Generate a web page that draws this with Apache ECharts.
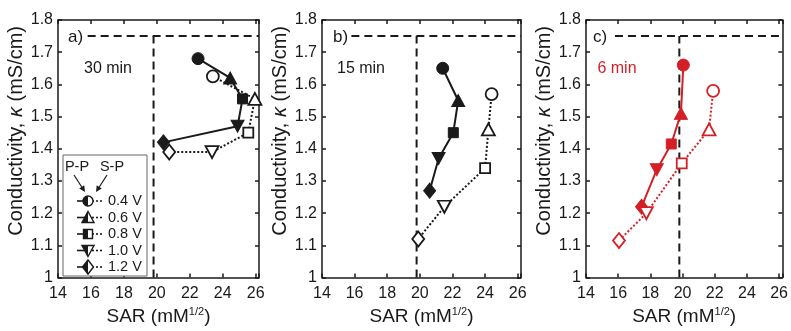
<!DOCTYPE html>
<html><head><meta charset="utf-8">
<script src="https://cdn.jsdelivr.net/npm/echarts@6/dist/echarts.min.js"></script>
<style>html,body{margin:0;padding:0;background:#fff}#c{width:791px;height:331px}</style>
</head><body><div id="c"></div>
<script>
// ---------- data ----------
const xTickLabels = [14, 16, 18, 20, 22, 24, 26];
const yTickLabels = [1, 1.1, 1.2, 1.3, 1.4, 1.5, 1.6, 1.7, 1.8];
const voltages = ['0.4 V', '0.6 V', '0.8 V', '1.0 V', '1.2 V'];
const panelLabels = ['a)', 'b)', 'c)'];
const timeLabels = ['30 min', '15 min', '6 min'];
const refSAR = 19.8;     // vertical dashed line
const refK = 1.75;       // horizontal dashed line
const refStart = 15.8;
// panel a (30 min)
const ppA_x = [22.5, 24.45, 25.2, 24.9, 20.4];
const ppA_y = [1.68, 1.62, 1.555, 1.47, 1.42];
const spA_x = [23.4, 25.95, 25.55, 23.35, 20.75];
const spA_y = [1.625, 1.555, 1.45, 1.39, 1.39];
// panel b (15 min)
const ppB_x = [21.4, 22.35, 22.05, 21.15, 20.6];
const ppB_y = [1.65, 1.55, 1.45, 1.37, 1.27];
const spB_x = [24.4, 24.2, 24.0, 21.5, 19.9];
const spB_y = [1.57, 1.46, 1.34, 1.22, 1.12];
// panel c (6 min)
const ppC_x = [20.05, 19.9, 19.3, 18.4, 17.45];
const ppC_y = [1.66, 1.51, 1.415, 1.335, 1.22];
const spC_x = [21.9, 21.65, 19.95, 17.75, 16.05];
const spC_y = [1.58, 1.46, 1.355, 1.2, 1.115];

// ---------- styling ----------
const FONT = 'Liberation Sans, Arial, sans-serif';
const INK = '#1a1a1a';
const RED = '#d41f26';
const symbols = [
  {symbol: 'circle', symbolSize: 12, symbolRotate: 0},
  {symbol: 'triangle', symbolSize: [13, 12], symbolRotate: 0},
  {symbol: 'rect', symbolSize: 10, symbolRotate: 0},
  {symbol: 'triangle', symbolSize: [13, 12], symbolRotate: 180},
  {symbol: 'diamond', symbolSize: [12, 15], symbolRotate: 0}
];
const grids = [
  {left: 58, top: 20, width: 201, height: 266},
  {left: 322, top: 20, width: 199, height: 265},
  {left: 586, top: 20, width: 198, height: 265}
];
const panels = [
  {pp: [ppA_x, ppA_y], sp: [spA_x, spA_y], color: INK},
  {pp: [ppB_x, ppB_y], sp: [spB_x, spB_y], color: INK},
  {pp: [ppC_x, ppC_y], sp: [spC_x, spC_y], color: RED}
];
const XMIN = xTickLabels[0], XMAX = 26.2;
const YMIN = yTickLabels[0], YMAX = yTickLabels[yTickLabels.length - 1];

const axisLineStyle = {color: INK, width: 1.5};
const xAxes = [], yAxes = [], series = [];
grids.forEach((g, i) => {
  xAxes.push({
    gridIndex: i, type: 'value', min: XMIN, max: XMAX, interval: 2, position: 'bottom',
    name: '{n|SAR (mM}{s|1/2}{n|)}', nameLocation: 'middle', nameGap: 23,
    nameTextStyle: {rich: {
      n: {fontSize: 19, fontFamily: FONT, color: INK, lineHeight: 20},
      s: {fontSize: 11, fontFamily: FONT, color: INK, verticalAlign: 'top', lineHeight: 20, padding: [0, 0, 7, 0]}
    }},
    axisLine: {onZero: false, lineStyle: axisLineStyle},
    axisTick: {inside: true, length: 4, lineStyle: axisLineStyle},
    axisLabel: {fontSize: 16, fontFamily: FONT, color: INK, margin: 8,
      formatter: v => (xTickLabels.indexOf(Math.round(v * 100) / 100) >= 0 ? String(v) : '')},
    splitLine: {show: false}
  });
  xAxes.push({
    gridIndex: i, type: 'value', min: XMIN, max: XMAX, interval: 2, position: 'top',
    axisLine: {onZero: false, lineStyle: axisLineStyle},
    axisTick: {inside: true, length: 4, lineStyle: axisLineStyle},
    axisLabel: {show: false}, splitLine: {show: false}
  });
  yAxes.push({
    gridIndex: i, type: 'value', min: YMIN, max: YMAX, interval: 0.1, position: 'left',
    name: '{n|Conductivity, }{k|κ}{n| (mS/cm)}', nameLocation: 'middle', nameGap: 27,
    nameTextStyle: {padding: [0, 0, 0, 36], rich: {
      n: {fontSize: 20, fontFamily: FONT, color: INK},
      k: {fontSize: 20, fontFamily: FONT, color: INK, fontStyle: 'italic'}
    }},
    axisLine: {onZero: false, lineStyle: axisLineStyle},
    axisTick: {inside: true, length: 4, lineStyle: axisLineStyle},
    axisLabel: {fontSize: 16, fontFamily: FONT, color: INK, margin: 5},
    splitLine: {show: false}
  });
  yAxes.push({
    gridIndex: i, type: 'value', min: YMIN, max: YMAX, interval: 0.1, position: 'right',
    axisLine: {onZero: false, lineStyle: axisLineStyle},
    axisTick: {inside: true, length: 4, lineStyle: axisLineStyle},
    axisLabel: {show: false}, splitLine: {show: false}
  });

  // reference dashed lines
  const dash = {color: INK, width: 2, type: [8, 5]};
  series.push({type: 'line', xAxisIndex: 2 * i, yAxisIndex: 2 * i, silent: true, symbol: 'none',
    data: [[refStart, refK], [XMAX, refK]], lineStyle: dash, z: 1, animation: false});
  series.push({type: 'line', xAxisIndex: 2 * i, yAxisIndex: 2 * i, silent: true, symbol: 'none',
    data: [[refSAR, YMIN], [refSAR, refK]], lineStyle: dash, z: 1, animation: false});

  const p = panels[i];
  const mk = (xs, ys, filled) => xs.map((x, k) => Object.assign({value: [x, ys[k]]}, symbols[k], {
    itemStyle: filled ? {color: p.color, borderColor: p.color, borderWidth: 1}
                      : {color: '#fff', borderColor: p.color, borderWidth: 1.8}
  }));
  series.push({type: 'line', name: 'P-P', xAxisIndex: 2 * i, yAxisIndex: 2 * i, showAllSymbol: true,
    data: mk(p.pp[0], p.pp[1], true), lineStyle: {color: p.color, width: 2}, z: 3, animation: false});
  series.push({type: 'line', name: 'S-P', xAxisIndex: 2 * i, yAxisIndex: 2 * i, showAllSymbol: true,
    data: mk(p.sp[0], p.sp[1], false), lineStyle: {color: p.color, width: 2, type: [2, 2]}, z: 4, animation: false});
});

// ---------- annotations & legend (graphic) ----------
const graphic = [];
const txt = (x, y, text, size, color, align) => ({type: 'text', x, y, z: 50,
  style: {text, font: size + 'px ' + FONT, fill: color || INK, align: align || 'left', verticalAlign: 'middle',
          textAlign: align || 'left', textVerticalAlign: 'middle'}});
const panelLabelX = [68, 333, 593];
const timeX = [108, 361, 617];
panelLabels.forEach((t, i) => {
  graphic.push(txt(panelLabelX[i], 37, t, 17, INK, 'left'));
  graphic.push(txt(timeX[i], 69, timeLabels[i], 16, i === 2 ? RED : INK, 'center'));
});

// legend box
graphic.push({type: 'rect', z: 40, shape: {x: 63, y: 155, width: 84, height: 121},
  style: {fill: '#fff', stroke: '#666', lineWidth: 1}});
graphic.push(txt(77, 167, 'P-P', 14.5, INK, 'center'));
graphic.push(txt(112, 167, 'S-P', 14.5, INK, 'center'));
function arrow(x1, y1, x2, y2) {
  const dx = x2 - x1, dy = y2 - y1, L = Math.hypot(dx, dy), ux = dx / L, uy = dy / L;
  const bx = x2 - 6 * ux, by = y2 - 6 * uy, nx = -uy * 3, ny = ux * 3;
  graphic.push({type: 'line', z: 45, shape: {x1, y1, x2: bx, y2: by}, style: {stroke: INK, lineWidth: 1.2}});
  graphic.push({type: 'polygon', z: 45, shape: {points: [[x2, y2], [bx + nx, by + ny], [bx - nx, by - ny]]},
    style: {fill: INK}});
}
arrow(74, 175, 85, 192);
arrow(107, 175, 96, 192);
const half = () => new echarts.graphic.LinearGradient(0, 0, 1, 0, [
  {offset: 0, color: INK}, {offset: 0.5, color: INK}, {offset: 0.5, color: '#fff'}, {offset: 1, color: '#fff'}]);
voltages.forEach((v, r) => {
  const y = 201 + r * 16.5, cx = 88;
  graphic.push({type: 'line', z: 45, shape: {x1: 77, y1: y, x2: cx, y2: y}, style: {stroke: INK, lineWidth: 1.6}});
  graphic.push({type: 'line', z: 45, shape: {x1: cx, y1: y, x2: 104, y2: y}, style: {stroke: INK, lineWidth: 1.6, lineDash: [2, 2]}});
  const st = {fill: half(), stroke: INK, lineWidth: 1.4};
  let shp;
  if (r === 0) shp = {type: 'circle', shape: {cx, cy: y, r: 5}};
  else if (r === 1) shp = {type: 'polygon', shape: {points: [[cx, y - 6], [cx + 6, y + 5], [cx - 6, y + 5]]}};
  else if (r === 2) shp = {type: 'rect', shape: {x: cx - 4.5, y: y - 4.5, width: 9, height: 9}};
  else if (r === 3) shp = {type: 'polygon', shape: {points: [[cx, y + 6], [cx + 6, y - 5], [cx - 6, y - 5]]}};
  else shp = {type: 'polygon', shape: {points: [[cx, y - 7], [cx + 5.5, y], [cx, y + 7], [cx - 5.5, y]]}};
  shp.z = 46; shp.style = st;
  graphic.push(shp);
  graphic.push(txt(108, y, v, 14.5, INK, 'left'));
});

const chart = echarts.init(document.getElementById('c'), null, {renderer: 'canvas'});
chart.setOption({
  animation: false,
  backgroundColor: '#fff',
  grid: grids,
  xAxis: xAxes,
  yAxis: yAxes,
  series,
  graphic
});
</script></body></html>
